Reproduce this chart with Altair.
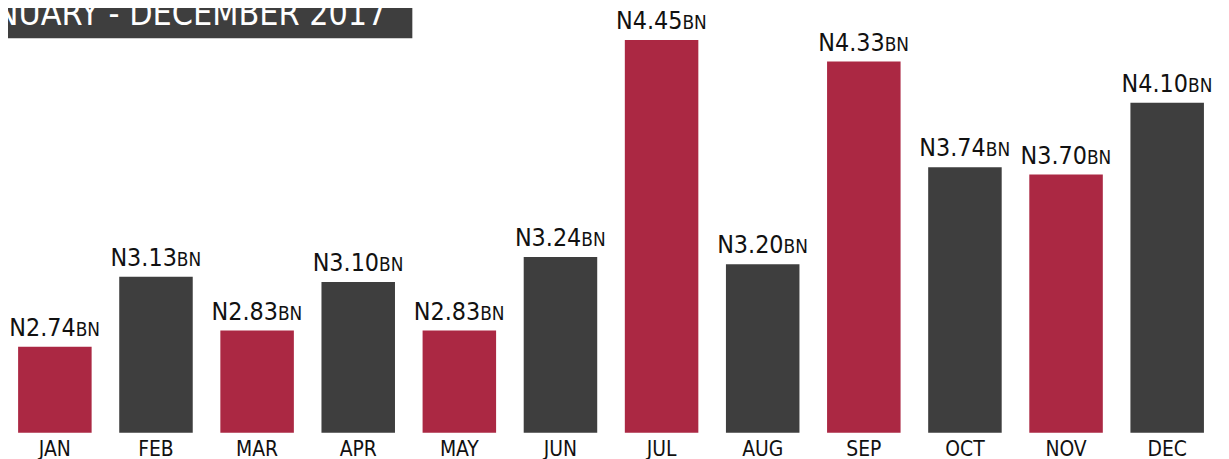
import altair as alt
import pandas as pd

# ---- data ----
months = ["JAN", "FEB", "MAR", "APR", "MAY", "JUN", "JUL", "AUG", "SEP", "OCT", "NOV", "DEC"]
values = [2.74, 3.13, 2.83, 3.10, 2.83, 3.24, 4.45, 3.20, 4.33, 3.74, 3.70, 4.10]
groups = ["odd", "even", "odd", "even", "odd", "even", "odd", "even", "odd", "even", "odd", "even"]
prefix = "N"
suffix = "BN"
title_text = "JANUARY - DECEMBER 2017"

Y_MIN, Y_MAX = 2.26, 4.62
RED = "#AB2843"
GRAY = "#3E3E3E"
FONT = "DejaVu Sans Condensed, sans-serif"

df = pd.DataFrame({
    "month": months,
    "value": values,
    "group": groups,
    "main": [prefix + f"{v:.2f}" for v in values],
    "suf": [suffix] * len(values),
})

x = alt.X("month:N", sort=months,
          scale=alt.Scale(paddingInner=0.273, paddingOuter=0.1),
          axis=alt.Axis(title=None, domain=False, ticks=False, labelAngle=0,
                        labelFont=FONT, labelFontSize=21, labelColor="#111111",
                        labelPadding=6))
y = alt.Y("value:Q", scale=alt.Scale(domain=[Y_MIN, Y_MAX], zero=False, nice=False),
          axis=None)

base = alt.Chart(df)

bars = base.mark_bar().encode(
    x=x, y=y, y2=alt.Y2Datum(Y_MIN),
    color=alt.Color("group:N", scale=alt.Scale(domain=["odd", "even"], range=[RED, GRAY]),
                    legend=None),
)

lab_main = base.mark_text(align="right", baseline="alphabetic", dx=21, dy=-11,
                          font=FONT, fontSize=25, color="#111111").encode(
    x=x, y=y, text="main:N")
lab_suf = base.mark_text(align="left", baseline="alphabetic", dx=21, dy=-11,
                         font=FONT, fontSize=19, color="#111111").encode(
    x=x, y=y, text="suf:N")

tdf = pd.DataFrame({"t": [title_text]})
tbox = alt.Chart(tdf).mark_rect(color="#3E3E3E").encode(
    x=alt.value(-10), x2=alt.value(407), y=alt.value(-10), y2=alt.value(29))
ttext = alt.Chart(tdf).mark_text(align="right", baseline="alphabetic", font=FONT,
                                 fontSize=34, color="white").encode(
    x=alt.value(381), y=alt.value(16), text="t:N")

chart = alt.layer(bars, lab_main, lab_suf, tbox, ttext).properties(
    width=1214, height=426,
    background="white",
    autosize=alt.AutoSizeParams(type="none"),
    padding={"left": 0, "top": 0, "right": 7, "bottom": 33},
).configure_view(stroke=None)

chart.save("out.html", embed_options={"renderer": "svg", "actions": False})
